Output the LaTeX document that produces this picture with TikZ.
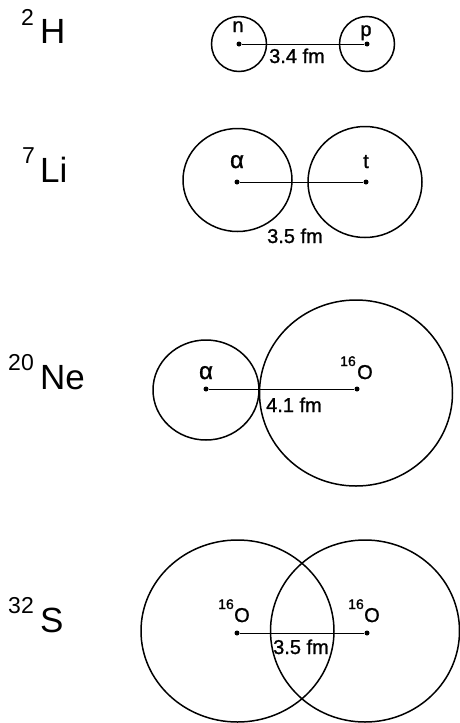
\documentclass[tikz,border=0pt]{standalone}
\usepackage{fontspec}
\setmainfont{Liberation Sans}
\newfontfamily\lblfont[FakeBold=1.2]{Liberation Sans}
\begin{document}
\begin{tikzpicture}[x=1pt,y=-1pt,
  nuc/.style={line width=1.5pt},
  bond/.style={line width=0.9pt},
  dotc/.style={circle,fill=black,inner sep=0pt,minimum size=5pt},
  lbl/.style={anchor=base,inner sep=0pt,font=\lblfont\fontsize{20}{22}\selectfont},
  grk/.style={anchor=base,inner sep=0pt,font=\lblfont\fontsize{24}{26}\selectfont},
  big/.style={anchor=base west,inner sep=0pt,font=\fontsize{35}{40}\selectfont},
  sup/.style={anchor=base east,inner sep=0pt,font=\fontsize{23}{26}\selectfont},
  osup/.style={anchor=base east,inner sep=0pt,font=\lblfont\fontsize{14}{16}\selectfont},
  ]
\useasboundingbox (0,0) rectangle (460,723);
% ---- 2H
\node[big] (hH) at (40,43) {H};
\node[sup] (hHs) at (34,25) {2};
\node[dotc] (n) at (239,44) {};
\node[dotc] (p) at (367,44) {};
\draw[nuc] (n) circle [x radius=27.5, y radius=27.5];
\draw[nuc] (p) circle [x radius=27.5, y radius=27.5];
\draw[bond] (n) -- (p);
\node[lbl] (nl) at (238,32) {n};
\node[lbl] (pl) at (366,36) {p};
\node[lbl] (hd) at (297,63) {3.4 fm};
% ---- 7Li
\node[big] (lL) at (40,182) {Li};
\node[sup] (lLs) at (35,163) {7};
\node[dotc] (a1) at (237,182) {};
\node[dotc] (t1) at (366,182) {};
\draw[nuc] (237.5,180) circle [x radius=54.5, y radius=51.5];
\draw[nuc] (365,182) circle [x radius=57, y radius=55.5];
\draw[bond] (a1) -- (t1);
\node[grk] (al1) at (237,168) {α};
\node[lbl] (tl1) at (366,168) {t};
\node[lbl] (ld) at (295,243) {3.5 fm};
% ---- 20Ne
\node[big] (nN) at (40,389) {Ne};
\node[sup] (nNs) at (34,370) {20};
\node[dotc] (a2) at (206,389) {};
\node[dotc] (o2) at (357,389) {};
\draw[nuc] (206,390) circle [x radius=53, y radius=50];
\draw[nuc] (356,393) circle [x radius=96.5, y radius=93];
\draw[bond] (a2) -- (o2);
\node[grk] (al2) at (206,379) {α};
\node[lbl,anchor=base west] (ol2) at (357,379) {O};
\node[osup] (ol2s) at (356,366) {16};
\node[lbl,anchor=base west] (nd) at (266,412) {4.1 fm};
% ---- 32S
\node[big] (sS) at (40,632) {S};
\node[sup] (sSs) at (34,613) {32};
\node[dotc] (o3) at (237,633) {};
\node[dotc] (o4) at (367,633) {};
\draw[nuc] (237.5,631) circle [x radius=96.5, y radius=91];
\draw[nuc] (365,631) circle [x radius=94.5, y radius=91];
\draw[bond] (o3) -- (o4);
\node[lbl,anchor=base west] (ol3) at (234,622) {O};
\node[osup] (ol3s) at (234,609) {16};
\node[lbl,anchor=base west] (ol4) at (364,622) {O};
\node[osup] (ol4s) at (364,609) {16};
\node[lbl] (sd) at (301,654) {3.5 fm};
\end{tikzpicture}
\end{document}
